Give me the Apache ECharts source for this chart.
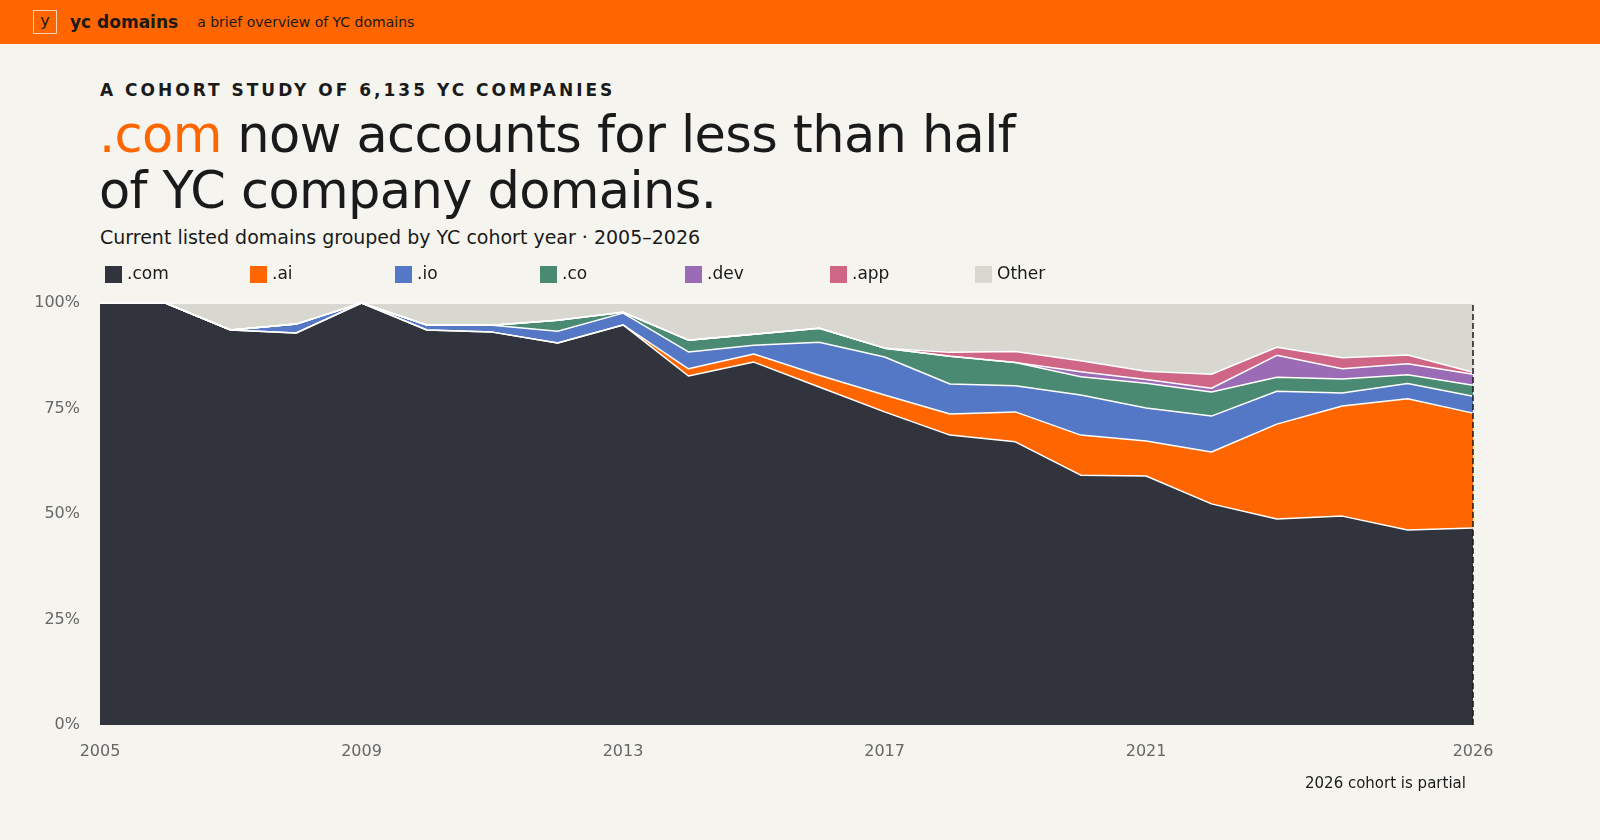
<!DOCTYPE html>
<html>
<head>
<meta charset="utf-8">
<script src="https://cdn.jsdelivr.net/npm/echarts@6/dist/echarts.min.js"></script>
<style>
  body { margin: 0; background: #f5f4ee; font-family: "DejaVu Sans", Verdana, sans-serif; color: #1a1a1a; width: 1600px; height: 840px; overflow: hidden; position: relative; }
  .bar { height: 44px; background: #ff6600; display: flex; align-items: center; }
  .logo { margin-left: 33px; width: 22px; height: 22px; border: 1px solid #f5d3b8; color: #1a1a1a; font-size: 16px; line-height: 20px; text-align: center; }
  .brand { margin-left: 13px; font-weight: bold; font-size: 17px; }
  .tag { margin-left: 19px; font-size: 14px; }
  .kicker { position: absolute; left: 100px; top: 80px; font-size: 17px; font-weight: bold; letter-spacing: 3px; }
  .title { position: absolute; left: 99px; top: 107px; font-size: 51px; line-height: 56px; letter-spacing: -0.6px; }
  .title span { color: #ff6600; }
  .sub { position: absolute; left: 100px; top: 226px; font-size: 19px; }
  .note { position: absolute; left: 1305px; top: 774px; font-size: 15px; }
  #chart { position: absolute; left: 0; top: 0; width: 1600px; height: 840px; }
</style>
</head>
<body>
<div class="bar"><div class="logo">y</div><div class="brand">yc domains</div><div class="tag">a brief overview of YC domains</div></div>
<div class="kicker">A COHORT STUDY OF 6,135 YC COMPANIES</div>
<div class="title"><span>.com</span> now accounts for less than half<br>of YC company domains.</div>
<div class="sub">Current listed domains grouped by YC cohort year · 2005–2026</div>
<div id="chart"></div>
<div class="note">2026 cohort is partial</div>
<script>
// cohort years and share (%) of each TLD
const years = ['2005','2006','2007','2008','2009','2010','2011','2012','2013','2014','2015','2016','2017','2018','2019','2020','2021','2022','2023','2024','2025','2026'];
const com   = [100,100,93.6,92.9,100,93.6,93.1,90.5,94.8,82.7,86.0,80.1,74.2,68.7,67.1,59.2,59.0,52.4,48.8,49.5,46.2,46.7];
const ai    = [0,0,0,0,0,0,0,0,0,1.7,1.9,2.8,4.0,5.0,7.1,9.5,8.3,12.3,22.5,26.1,31.1,27.2];
const io    = [0,0,0,2.1,0,1.2,1.6,2.8,2.8,4.0,2.1,7.8,9.0,7.1,6.2,9.5,7.8,8.5,7.8,3.1,3.6,4.0];
const co    = [0,0,0,0,0,0,0,2.6,0.2,2.8,2.6,3.3,2.1,6.6,5.5,4.3,5.9,5.7,3.3,3.3,2.1,2.6];
const dev   = [0,0,0,0,0,0,0,0,0,0,0,0,0,0,0,1.2,0.9,0.9,5.2,2.4,2.6,2.6];
const app   = [0,0,0,0,0,0,0,0,0,0,0,0,0,0.9,2.6,2.6,1.9,3.3,1.9,2.6,2.1,0.5];
const other = [0,0,6.4,5.0,0,5.2,5.3,4.1,2.2,8.8,7.4,6.0,10.7,11.7,11.5,13.7,16.2,16.9,10.5,13.0,12.3,16.4];
const xTicks = ['2005','2009','2013','2017','2021','2026'];

const names = ['.com','.ai','.io','.co','.dev','.app','Other'];
const colors = ['#31343c','#ff6600','#5478c6','#4a8a72','#9c6bb5','#cf6685','#d8d7d0'];
const values = [com, ai, io, co, dev, app, other];

const chart = echarts.init(document.getElementById('chart'));
const series = names.map((n, i) => ({
  name: n,
  type: 'line',
  stack: 'all',
  symbol: 'none',
  data: values[i],
  lineStyle: { color: '#ffffff', width: 1.5 },
  areaStyle: { color: colors[i], opacity: 1 },
  itemStyle: { color: colors[i] }
}));
series[6].markLine = {
  silent: true, symbol: 'none', label: { show: false },
  lineStyle: { color: '#1a1a1a', type: 'dashed', width: 1.5 },
  data: [{ xAxis: '2026' }]
};

// one legend per item so they sit on an even 145px pitch
const legends = names.map((n, i) => ({
  left: 100 + 145 * i, top: 261, icon: 'rect', itemWidth: 17, itemHeight: 17, itemGap: 10,
  data: [n],
  textStyle: { fontSize: 17, color: '#1a1a1a' }
}));

chart.setOption({
  backgroundColor: 'transparent',
  animation: false,
  textStyle: { fontFamily: 'DejaVu Sans' },
  legend: legends,
  grid: { left: 100, right: 127, top: 303, bottom: 115 },
  xAxis: {
    type: 'category', data: years, boundaryGap: false,
    axisLine: { show: false }, axisTick: { show: false }, splitLine: { show: false },
    axisLabel: { interval: (i, v) => xTicks.includes(v), fontSize: 16, color: '#666', margin: 19 }
  },
  yAxis: {
    type: 'value', min: 0, max: 100, interval: 25,
    axisLine: { show: false }, axisTick: { show: false }, splitLine: { show: false },
    axisLabel: { fontSize: 16, color: '#666', margin: 20, formatter: v => v + '%' }
  },
  series: series
});
</script>
</body>
</html>
